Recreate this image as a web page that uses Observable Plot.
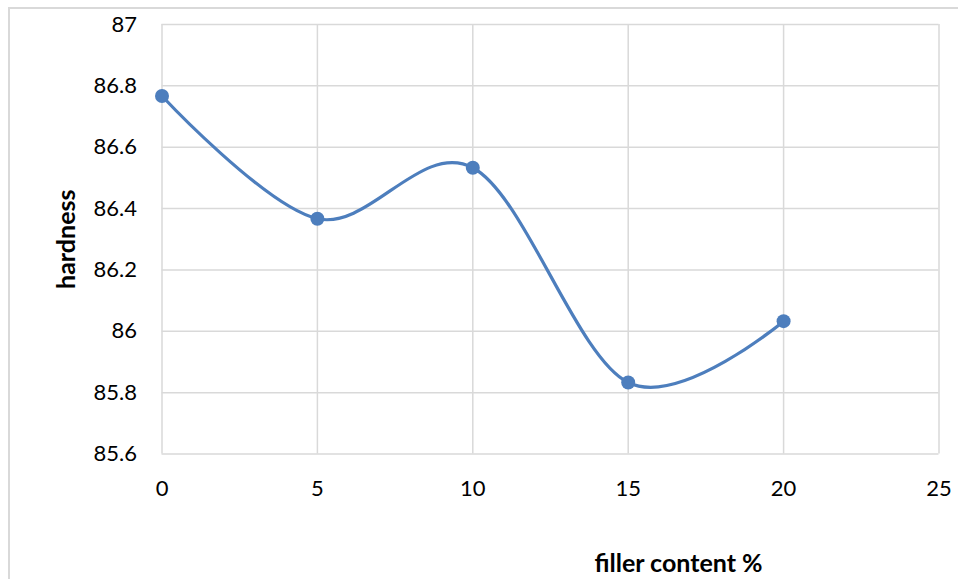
<!DOCTYPE html>
<html>
<head>
<meta charset="utf-8">
<script src="https://cdn.jsdelivr.net/npm/d3@7"></script>
<script src="https://cdn.jsdelivr.net/npm/@observablehq/plot@0.6"></script>
<style>
  html, body { margin: 0; padding: 0; background: #fff; }
  #wrap { position: relative; width: 958px; height: 579px; overflow: hidden; }
  #border { position: absolute; left: 8px; top: 7px; width: 980px; height: 600px;
            border-top: 2px solid #d9d9d9; border-left: 2px solid #d9d9d9; box-sizing: border-box; }
  #chart { position: absolute; left: 0; top: 0; }
</style>
</head>
<body>
<div id="wrap"><div id="border"></div><div id="chart"></div></div>
<script>
const fillerContent = [0, 5, 10, 15, 20];
const hardness = [86.767, 86.367, 86.533, 85.833, 86.033];
const xTicks = [0, 5, 10, 15, 20, 25];
const yTicks = [85.6, 85.8, 86, 86.2, 86.4, 86.6, 86.8, 87];
const xTitle = "filler content %";
const yTitle = "hardness";

const data = fillerContent.map((x, i) => ({x, y: hardness[i]}));
const color = "#4d7ebd";
const grid = "#d9d9d9";

const chart = Plot.plot({
  width: 958,
  height: 579,
  marginLeft: 161.5,
  marginRight: 19.5,
  marginTop: 24,
  marginBottom: 125.5,
  style: {fontFamily: "Lato, 'Open Sans', sans-serif", fontSize: "22px", color: "#000", background: "transparent", overflow: "visible"},
  x: {domain: [0, 25], label: null},
  y: {domain: [85.6, 87], label: null},
  marks: [
    Plot.gridX(xTicks, {stroke: grid, strokeOpacity: 1, strokeWidth: 1.5}),
    Plot.gridY(yTicks, {stroke: grid, strokeOpacity: 1, strokeWidth: 1.5}),
    Plot.axisX({ticks: xTicks, tickSize: 0, tickPadding: 26, fontSize: 22, label: null, tickFormat: d => String(d)}),
    Plot.axisY({ticks: yTicks, tickSize: 0, tickPadding: 25, fontSize: 22, label: null, tickFormat: d => String(+d.toFixed(1))}),
    Plot.line(data, {x: "x", y: "y", curve: "cardinal", stroke: color, strokeWidth: 3.2}),
    Plot.dot(data, {x: "x", y: "y", r: 7, fill: color, stroke: "none"}),
    Plot.text([yTitle], {frameAnchor: "left", textAnchor: "middle", lineAnchor: "middle", dx: -95.5, rotate: -90, fontWeight: "bold", fontSize: 25, fill: "#000"}),
    Plot.text([xTitle], {frameAnchor: "bottom", textAnchor: "middle", lineAnchor: "middle", dx: 128, dy: 109.5, fontWeight: "bold", fontSize: 25, fill: "#000"})
  ]
});
document.getElementById("chart").appendChild(chart);
</script>
</body>
</html>
